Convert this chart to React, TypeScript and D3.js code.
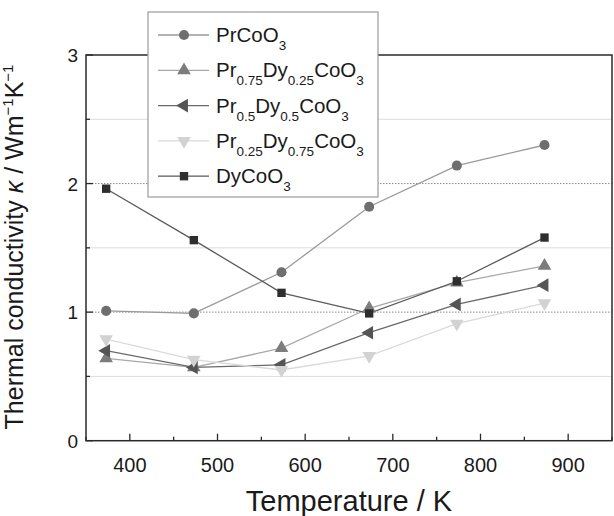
import React from 'react';
import * as d3 from 'd3';

// Temperatures (K) and thermal conductivity (W m^-1 K^-1)
const temps = [373, 473, 573, 673, 773, 873];
const prCoO3 = [1.01, 0.99, 1.31, 1.82, 2.14, 2.3];
const pr075 = [0.64, 0.57, 0.72, 1.03, 1.23, 1.36];
const pr05 = [0.7, 0.57, 0.59, 0.84, 1.06, 1.21];
const pr025 = [0.79, 0.63, 0.55, 0.66, 0.91, 1.07];
const dyCoO3 = [1.96, 1.56, 1.15, 0.99, 1.24, 1.58];

const xTicks = [400, 500, 600, 700, 800, 900];
const xMinor = [350, 450, 550, 650, 750, 850, 950];
const yTicks = [0, 1, 2, 3];
const yMinor = [0.5, 1.5, 2.5];

// label parts: [text, isSub]
type Part = [string, boolean];
const series: {
  name: Part[];
  values: number[];
  symbol: d3.SymbolType;
  rotate: number;
  size: number;
  fill: string;
  line: string;
}[] = [
  { name: [['PrCoO', false], ['3', true]], values: prCoO3, symbol: d3.symbolCircle, rotate: 0, size: 80, fill: '#6e6e6e', line: '#9a9a9a' },
  { name: [['Pr', false], ['0.75', true], ['Dy', false], ['0.25', true], ['CoO', false], ['3', true]], values: pr075, symbol: d3.symbolTriangle, rotate: 0, size: 80, fill: '#7c7c7c', line: '#a8a8a8' },
  { name: [['Pr', false], ['0.5', true], ['Dy', false], ['0.5', true], ['CoO', false], ['3', true]], values: pr05, symbol: d3.symbolTriangle, rotate: -90, size: 80, fill: '#555555', line: '#6a6a6a' },
  { name: [['Pr', false], ['0.25', true], ['Dy', false], ['0.75', true], ['CoO', false], ['3', true]], values: pr025, symbol: d3.symbolTriangle, rotate: 180, size: 80, fill: '#d2d2d2', line: '#dadada' },
  { name: [['DyCoO', false], ['3', true]], values: dyCoO3, symbol: d3.symbolSquare, rotate: 0, size: 70, fill: '#2e2e2e', line: '#5a5a5a' },
];

const W = 614;
const H = 516;
const m = { left: 86, right: 612, top: 55, bottom: 440.7 };
const font = '"Liberation Sans", Arial, sans-serif';

export default function App() {
  const x = d3.scaleLinear().domain([350, 950]).range([m.left, m.right]);
  const y = d3.scaleLinear().domain([0, 3]).range([m.bottom, m.top]);

  const line = d3
    .line<number>()
    .x((_, i) => x(temps[i]))
    .y((d) => y(d));

  const sym = (s: (typeof series)[number]) => d3.symbol().type(s.symbol).size(s.size)() || '';

  const legendX = 148;
  const legendY = 12;
  const rowH = 35.3;

  return (
    <svg width={W} height={H} style={{ position: 'absolute', left: 0, top: 0, background: '#fff' }} fontFamily={font}>
      {/* grid lines */}
      {yMinor.map((v) => (
        <line key={'g' + v} x1={m.left} x2={m.right} y1={y(v)} y2={y(v)} stroke="#dcdcdc" strokeWidth={1} />
      ))}
      {[1, 2].map((v) => (
        <line key={'d' + v} x1={m.left} x2={m.right} y1={y(v)} y2={y(v)} stroke="#8a8a8a" strokeWidth={1} strokeDasharray="1.5,1.5" />
      ))}

      {/* series */}
      {series.map((s, i) => (
        <path key={'l' + i} d={line(s.values) || ''} fill="none" stroke={s.line} strokeWidth={1.3} />
      ))}
      {series.map((s, i) =>
        s.values.map((v, j) => (
          <path
            key={'p' + i + '-' + j}
            d={sym(s)}
            transform={`translate(${x(temps[j])},${y(v)}) rotate(${s.rotate})`}
            fill={s.fill}
          />
        ))
      )}

      {/* frame */}
      <rect x={m.left} y={m.top} width={m.right - m.left} height={m.bottom - m.top} fill="none" stroke="#2a2a2a" strokeWidth={1.5} />

      {/* x ticks */}
      {xTicks.map((t) => (
        <g key={'xt' + t}>
          <line x1={x(t)} x2={x(t)} y1={m.bottom} y2={m.bottom - 7} stroke="#2a2a2a" strokeWidth={1.3} />
          <text x={x(t)} y={472} textAnchor="middle" fontSize={20} fill="#1a1a1a">
            {t}
          </text>
        </g>
      ))}
      {xMinor.map((t) => (
        <line key={'xm' + t} x1={x(t)} x2={x(t)} y1={m.bottom} y2={m.bottom - 4} stroke="#2a2a2a" strokeWidth={1.3} />
      ))}

      {/* y ticks */}
      {yTicks.map((t) => (
        <g key={'yt' + t}>
          <line x1={m.left} x2={m.left + 7} y1={y(t)} y2={y(t)} stroke="#2a2a2a" strokeWidth={1.3} />
          <text x={78} y={y(t) + 7} textAnchor="end" fontSize={19} fill="#1a1a1a">
            {t}
          </text>
        </g>
      ))}
      {yMinor.map((t) => (
        <line key={'ym' + t} x1={m.left} x2={m.left + 4} y1={y(t)} y2={y(t)} stroke="#2a2a2a" strokeWidth={1.3} />
      ))}

      {/* axis titles */}
      <text x={(m.left + m.right) / 2} y={511} textAnchor="middle" fontSize={29} fill="#1a1a1a">
        Temperature / K
      </text>
      <text transform="translate(23,247) rotate(-90)" textAnchor="middle" fontSize={25} fill="#1a1a1a">
        Thermal conductivity <tspan fontStyle="italic">κ</tspan> / Wm
        <tspan fontSize={15} dy={-10}>−1</tspan>
        <tspan dy={10}>K</tspan>
        <tspan fontSize={15} dy={-10}>−1</tspan>
      </text>

      {/* legend */}
      <rect x={legendX} y={legendY} width={230} height={185} fill="#fff" stroke="#9a9a9a" strokeWidth={1.2} />
      {series.map((s, i) => {
        const cy = legendY + 23 + i * rowH;
        return (
          <g key={'lg' + i}>
            <line x1={158} x2={209} y1={cy} y2={cy} stroke={s.line} strokeWidth={1.3} />
            <path d={sym(s)} transform={`translate(184,${cy}) rotate(${s.rotate})`} fill={s.fill} />
            <text x={216} y={cy + 7} fontSize={20.5} fill="#1a1a1a">
              {s.name.map(([t, sub], k) => {
                const prevSub = k > 0 && s.name[k - 1][1];
                const dy = sub ? 8 : prevSub ? -8 : 0;
                return (
                  <tspan key={k} fontSize={sub ? 13.5 : 20.5} dy={dy}>
                    {t}
                  </tspan>
                );
              })}
            </text>
          </g>
        );
      })}
    </svg>
  );
}
